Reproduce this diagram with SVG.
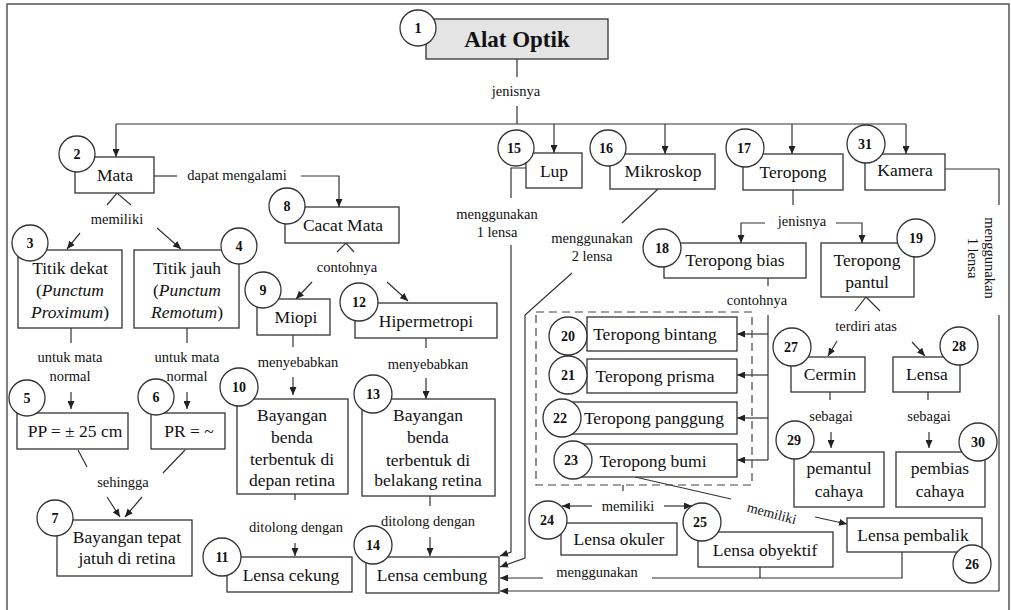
<svg xmlns="http://www.w3.org/2000/svg" width="1011" height="610" viewBox="0 0 1011 610">
<defs>
<marker id="ah" viewBox="0 0 8 7" refX="8" refY="3.5" markerWidth="8" markerHeight="7" markerUnits="userSpaceOnUse" orient="auto">
<path d="M0,0 L8,3.5 L0,7 z" fill="#222"/>
</marker>
<style>
.box{fill:#fff;stroke:#333;stroke-width:1.3}
.main{fill:#e4e4e4;stroke:#333;stroke-width:1.3}
.circ{fill:#fff;stroke:#333;stroke-width:1.3}
.t{font-family:"Liberation Serif","Times New Roman",serif;font-size:17.5px;fill:#111;text-anchor:middle}
.lbl{font-family:"Liberation Serif","Times New Roman",serif;font-size:14.5px;fill:#111;text-anchor:middle}
.num{font-family:"Liberation Serif","Times New Roman",serif;font-size:14px;font-weight:bold;fill:#111;text-anchor:middle}
.ln{fill:none;stroke:#333;stroke-width:1.2}
.ar{marker-end:url(#ah)}
.dash{fill:none;stroke:#444;stroke-width:1.2;stroke-dasharray:8 5}
</style>
</defs>
<rect width="1011" height="610" fill="#fff"/>
<path d="M7,610 V4 H1009 V610" fill="none" stroke="#555" stroke-width="1.5"/>

<g id="connectors">
<path class="ln" d="M517,59 V77 M517,106 V124 M116,124 H906"/>
<path class="ln ar" d="M116,124 V157"/>
<path class="ln ar" d="M554,124 V153"/>
<path class="ln ar" d="M665,124 V154"/>
<path class="ln ar" d="M792,124 V154"/>
<path class="ln ar" d="M906,124 V154"/>
<text class="lbl" x="516" y="96">jenisnya</text>

<path class="ln" d="M154,176 H177"/>
<path class="ln ar" d="M301,176 H339 V207"/>
<text class="lbl" x="237" y="180">dapat mengalami</text>

<path class="ln" d="M107,205 L117,193 L131,205"/>
<text class="lbl" x="117" y="224">memiliki</text>
<path class="ln ar" d="M80,233 L67,249"/>
<path class="ln ar" d="M157,228 L181,249"/>

<path class="ln" d="M71,328 V343 M187,328 V343"/>
<text class="lbl" x="70" y="362">untuk mata</text>
<text class="lbl" x="70" y="381">normal</text>
<text class="lbl" x="187" y="362">untuk mata</text>
<text class="lbl" x="187" y="381">normal</text>
<path class="ln ar" d="M71,392 V409"/>
<path class="ln ar" d="M187,392 V409"/>

<path class="ln" d="M78,450 L87,467 M185,450 L163,473"/>
<text class="lbl" x="123" y="487">sehingga</text>
<path class="ln ar" d="M107,497 L120,517"/>
<path class="ln ar" d="M142,497 L125,517"/>

<path class="ln" d="M337,252 L346,243 L354,252"/>
<text class="lbl" x="347" y="272">contohnya</text>
<path class="ln ar" d="M312,282 L296,299"/>
<path class="ln ar" d="M387,282 L408,301"/>

<path class="ln" d="M293,335 V347 M426,338 V348"/>
<text class="lbl" x="298" y="367">menyebabkan</text>
<text class="lbl" x="428" y="369">menyebabkan</text>
<path class="ln ar" d="M293,377 V395"/>
<path class="ln ar" d="M426,378 V399"/>

<path class="ln" d="M295,494 V500 M430,496 V506"/>
<text class="lbl" x="296" y="532">ditolong dengan</text>
<text class="lbl" x="428" y="526">ditolong dengan</text>
<path class="ln ar" d="M295,543 V556"/>
<path class="ln ar" d="M430,537 V556"/>

<path class="ln" d="M526,168 H511 V198"/>
<text class="lbl" x="497" y="219">menggunakan</text>
<text class="lbl" x="497" y="237">1 lensa</text>
<path class="ln ar" d="M511,245 V552 L500,556"/>

<path class="ln" d="M658,189 L622,223"/>
<text class="lbl" x="592" y="243">menggunakan</text>
<text class="lbl" x="592" y="261">2 lensa</text>
<path class="ln ar" d="M572,273 L525,315 V558 L500,567"/>

<path class="ln" d="M652,578 H902 V552 M760,578 V567"/>
<text class="lbl" x="597" y="577">menggunakan</text>
<path class="ln ar" d="M543,578 H500"/>

<path class="ln" d="M945,169 H999 V205"/>
<path class="ln ar" d="M999,315 V591 H500"/>
<g transform="translate(990,258) rotate(90)">
<text class="lbl" x="0" y="5">menggunakan</text>
<text class="lbl" x="0" y="22">1 lensa</text>
</g>

<path class="ln" d="M793,190 V205"/>
<text class="lbl" x="802" y="226">jenisnya</text>
<path class="ln ar" d="M765,223 H741 V243"/>
<path class="ln ar" d="M836,223 H862 V243"/>

<path class="ln" d="M768,278 V286 M768,315 V460"/>
<text class="lbl" x="757" y="305">contohnya</text>
<path class="ln ar" d="M768,334 H737"/>
<path class="ln ar" d="M768,375 H737"/>
<path class="ln ar" d="M768,418 H737"/>
<path class="ln ar" d="M768,460 H737"/>

<path class="ln" d="M623,485 V491"/>
<text class="lbl" x="628" y="511">memiliki</text>
<path class="ln ar" d="M592,506 H562"/>
<path class="ln ar" d="M664,506 H692"/>

<path class="ln" d="M635,477 L731,499"/>
<text class="lbl" transform="translate(772,513) rotate(15)" x="0" y="5" style="font-size:14px">memiliki</text>
<path class="ln ar" d="M815,517 L847,524"/>

<path class="ln" d="M855,311 L866,297 L880,311"/>
<text class="lbl" x="866" y="331">terdiri atas</text>
<path class="ln ar" d="M837,341 L828,356"/>
<path class="ln ar" d="M912,342 L925,356"/>

<path class="ln" d="M830,392 V400 M928,392 V400"/>
<text class="lbl" x="831" y="421">sebagai</text>
<text class="lbl" x="929" y="421">sebagai</text>
<path class="ln ar" d="M831,432 V448"/>
<path class="ln ar" d="M929,432 V448"/>
</g>

<g id="group-teropong-bias-examples">
<rect class="dash" x="536" y="312" width="216" height="173"/>
</g>

<g id="n1"><rect class="main" x="426" y="19" width="182" height="40"/><text class="t" x="517" y="47" style="font-weight:bold;font-size:23px">Alat Optik</text><circle class="circ" cx="418" cy="28" r="18"/><text class="num" x="418" y="33" style="font-size:15px">1</text></g>

<g id="n2"><rect class="box" x="75" y="157" width="79" height="36"/><text class="t" x="115" y="181">Mata</text><circle class="circ" cx="77" cy="154" r="18"/><text class="num" x="77" y="159">2</text></g>

<g id="n3"><rect class="box" x="18" y="250" width="104" height="78"/><text class="t" x="70" y="274">Titik dekat</text><text class="t" x="70" y="296">(<tspan font-style="italic">Punctum</tspan></text><text class="t" x="70" y="318"><tspan font-style="italic">Proximum</tspan>)</text><circle class="circ" cx="30" cy="243" r="18"/><text class="num" x="30" y="248">3</text></g>

<g id="n4"><rect class="box" x="134" y="250" width="105" height="78"/><text class="t" x="187" y="274">Titik jauh</text><text class="t" x="187" y="296">(<tspan font-style="italic">Punctum</tspan></text><text class="t" x="187" y="318"><tspan font-style="italic">Remotum</tspan>)</text><circle class="circ" cx="239" cy="246" r="18"/><text class="num" x="239" y="251">4</text></g>

<g id="n5"><rect class="box" x="17" y="413" width="111" height="36"/><text class="t" x="75" y="437">PP = ± 25 cm</text><circle class="circ" cx="27" cy="398" r="18"/><text class="num" x="27" y="403">5</text></g>

<g id="n6"><rect class="box" x="151" y="413" width="74" height="36"/><text class="t" x="189" y="437">PR = ~</text><circle class="circ" cx="156" cy="397" r="18"/><text class="num" x="156" y="402">6</text></g>

<g id="n7"><rect class="box" x="57" y="520" width="135" height="56"/><text class="t" x="127" y="543">Bayangan tepat</text><text class="t" x="127" y="564">jatuh di retina</text><circle class="circ" cx="55" cy="518" r="18"/><text class="num" x="55" y="523">7</text></g>

<g id="n8"><rect class="box" x="285" y="207" width="114" height="36"/><text class="t" x="343" y="231">Cacat Mata</text><circle class="circ" cx="287" cy="206" r="18"/><text class="num" x="287" y="211">8</text></g>

<g id="n9"><rect class="box" x="257" y="299" width="73" height="36"/><text class="t" x="296" y="323">Miopi</text><circle class="circ" cx="263" cy="290" r="18"/><text class="num" x="263" y="295">9</text></g>

<g id="n10"><rect class="box" x="237" y="399" width="111" height="95"/><text class="t" x="292" y="421">Bayangan</text><text class="t" x="292" y="443">benda</text><text class="t" x="292" y="465">terbentuk di</text><text class="t" x="292" y="486">depan retina</text><circle class="circ" cx="239" cy="387" r="19"/><text class="num" x="239" y="392">10</text></g>

<g id="n11"><rect class="box" x="227" y="557" width="125" height="35"/><text class="t" x="291" y="581">Lensa cekung</text><circle class="circ" cx="222" cy="557" r="19"/><text class="num" x="222" y="562">11</text></g>

<g id="n12"><rect class="box" x="355" y="303" width="142" height="35"/><text class="t" x="426" y="327">Hipermetropi</text><circle class="circ" cx="359" cy="302" r="19"/><text class="num" x="359" y="307">12</text></g>

<g id="n13"><rect class="box" x="362" y="399" width="133" height="97"/><text class="t" x="428" y="421">Bayangan</text><text class="t" x="428" y="443">benda</text><text class="t" x="428" y="466">terbentuk di</text><text class="t" x="428" y="486">belakang retina</text><circle class="circ" cx="373" cy="394" r="19"/><text class="num" x="373" y="399">13</text></g>

<g id="n14"><rect class="box" x="366" y="557" width="133" height="36"/><text class="t" x="432" y="581">Lensa cembung</text><circle class="circ" cx="373" cy="545" r="19"/><text class="num" x="373" y="550">14</text></g>

<g id="n15"><rect class="box" x="526" y="153" width="56" height="35"/><text class="t" x="554" y="177">Lup</text><circle class="circ" cx="516" cy="148" r="18"/><text class="num" x="514" y="153">15</text></g>

<g id="n16"><rect class="box" x="610" y="154" width="105" height="35"/><text class="t" x="663" y="177">Mikroskop</text><circle class="circ" cx="608" cy="148" r="18"/><text class="num" x="606" y="153">16</text></g>

<g id="n17"><rect class="box" x="743" y="154" width="100" height="36"/><text class="t" x="793" y="178">Teropong</text><circle class="circ" cx="745" cy="148" r="19"/><text class="num" x="744" y="153">17</text></g>

<g id="n31"><rect class="box" x="865" y="154" width="80" height="36"/><text class="t" x="905" y="176">Kamera</text><circle class="circ" cx="866" cy="144" r="19"/><text class="num" x="865" y="149">31</text></g>

<g id="n18"><rect class="box" x="664" y="243" width="142" height="35"/><text class="t" x="735" y="266">Teropong bias</text><circle class="circ" cx="662" cy="248" r="19"/><text class="num" x="662" y="253">18</text></g>

<g id="n19"><rect class="box" x="821" y="243" width="93" height="54"/><text class="t" x="867" y="266">Teropong</text><text class="t" x="867" y="288">pantul</text><circle class="circ" cx="916" cy="238" r="19"/><text class="num" x="916" y="243">19</text></g>

<g id="n20"><rect class="box" x="587" y="317" width="150" height="34"/><text class="t" x="655" y="340">Teropong bintang</text><circle class="circ" cx="568" cy="336" r="19"/><text class="num" x="568" y="341">20</text></g>

<g id="n21"><rect class="box" x="587" y="359" width="150" height="34"/><text class="t" x="655" y="382">Teropong prisma</text><circle class="circ" cx="568" cy="375" r="19"/><text class="num" x="568" y="380">21</text></g>

<g id="n22"><rect class="box" x="566" y="402" width="171" height="32"/><text class="t" x="654" y="424">Teropong panggung</text><circle class="circ" cx="562" cy="418" r="19"/><text class="num" x="560" y="423">22</text></g>

<g id="n23"><rect class="box" x="578" y="444" width="159" height="33"/><text class="t" x="653" y="467">Teropong bumi</text><circle class="circ" cx="573" cy="460" r="19"/><text class="num" x="571" y="465">23</text></g>

<g id="n24"><rect class="box" x="561" y="523" width="116" height="32"/><text class="t" x="619" y="545">Lensa okuler</text><circle class="circ" cx="548" cy="520" r="19"/><text class="num" x="547" y="525">24</text></g>

<g id="n25"><rect class="box" x="698" y="532" width="135" height="35"/><text class="t" x="765" y="556">Lensa obyektif</text><circle class="circ" cx="702" cy="522" r="19"/><text class="num" x="700" y="527">25</text></g>

<g id="n26"><rect class="box" x="847" y="518" width="135" height="34"/><text class="t" x="913" y="541">Lensa pembalik</text><circle class="circ" cx="972" cy="564" r="19"/><text class="num" x="972" y="569">26</text></g>

<g id="n27"><rect class="box" x="791" y="357" width="74" height="35"/><text class="t" x="830" y="380">Cermin</text><circle class="circ" cx="792" cy="347" r="19"/><text class="num" x="791" y="352">27</text></g>

<g id="n28"><rect class="box" x="893" y="357" width="67" height="35"/><text class="t" x="927" y="380">Lensa</text><circle class="circ" cx="959" cy="346" r="19"/><text class="num" x="959" y="351">28</text></g>

<g id="n29"><rect class="box" x="794" y="452" width="90" height="55"/><text class="t" x="839" y="474">pemantul</text><text class="t" x="839" y="497">cahaya</text><circle class="circ" cx="795" cy="440" r="19"/><text class="num" x="794" y="445">29</text></g>

<g id="n30"><rect class="box" x="896" y="452" width="89" height="55"/><text class="t" x="940" y="474">pembias</text><text class="t" x="940" y="497">cahaya</text><circle class="circ" cx="978" cy="442" r="19"/><text class="num" x="978" y="447">30</text></g>
</svg>
